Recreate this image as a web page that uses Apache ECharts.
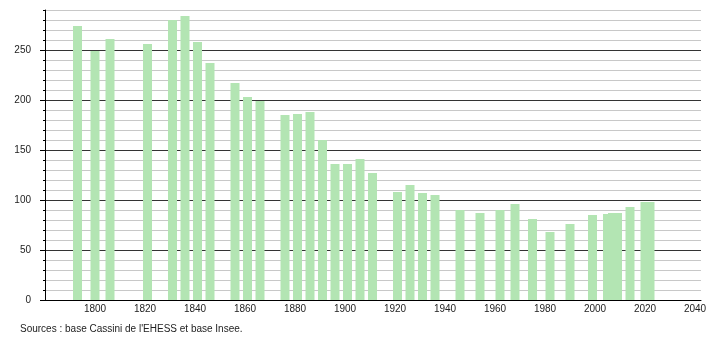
<!DOCTYPE html>
<html>
<head>
<meta charset="utf-8">
<script src="https://cdn.jsdelivr.net/npm/echarts@6/dist/echarts.min.js"></script>
<style>html,body{margin:0;padding:0;background:#fff;}#chart{width:710px;height:340px;}</style>
</head>
<body>
<div id="chart"></div>
<script>
const years = [1793,1800,1806,1821,1831,1836,1841,1846,1856,1861,1866,1876,1881,1886,1891,1896,1901,1906,1911,1921,1926,1931,1936,1946,1954,1962,1968,1975,1982,1990,1999,2005,2007,2009,2014,2020,2022];
const population = [274,249,261,256,280,284,258,237,217,203,199,185,186,188,160,136,136,141,127,108,115,107,105,90,87,90,96,81,68,76,85,86,87,87,93,98,98];
const xTickLabels = [1800,1820,1840,1860,1880,1900,1920,1940,1960,1980,2000,2020,2040];
const yTickLabels = [0,50,100,150,200,250];
const sourceText = "Sources : base Cassini de l'EHESS et base Insee.";

const BAR_COLOR = '#b3e5b3';
const BAR_W = 9;
const FONT = '"Liberation Sans", Arial, sans-serif';

const chart = echarts.init(document.getElementById('chart'), null, {renderer: 'canvas'});
const data = years.map((y, i) => [y, population[i]]);

chart.setOption({
  animation: false,
  backgroundColor: '#fff',
  grid: {left: 45, right: 9, top: 10, bottom: 40, containLabel: false},
  xAxis: {
    type: 'value', min: 1780, max: 2042.4, interval: 20,
    axisLine: {show: true, onZero: false, lineStyle: {color: '#000', width: 1}},
    axisTick: {show: false},
    splitLine: {show: false},
    axisLabel: {
      margin: 4, color: '#222', fontSize: 10, fontFamily: FONT,
      showMinLabel: true, showMaxLabel: true,
      formatter: v => xTickLabels.indexOf(v) >= 0 ? String(v) : ''
    }
  },
  yAxis: [{
    type: 'value', min: 0, max: 290, interval: 10, position: 'left',
    axisLine: {show: true, lineStyle: {color: '#000', width: 1}},
    axisTick: {show: true, length: 2, lineStyle: {color: '#000'}},
    splitLine: {show: true, lineStyle: {color: ['#333', '#c8c8c8', '#c8c8c8', '#c8c8c8', '#c8c8c8'], width: 1}},
    axisLabel: {
      margin: 14, color: '#222', fontSize: 10, fontFamily: FONT,
      formatter: v => yTickLabels.indexOf(v) >= 0 ? String(v) : ''
    }
  }, {
    type: 'value', min: 0, max: 290, interval: 50, position: 'left',
    axisLine: {show: false},
    axisTick: {show: true, length: 5, lineStyle: {color: '#000'}, customValues: yTickLabels},
    splitLine: {show: false},
    axisLabel: {show: false}
  }],
  series: [{
    type: 'custom',
    yAxisIndex: 0,
    data: data,
    z: 5,
    renderItem: (params, api) => {
      const x = api.value(0), y = api.value(1);
      const top = api.coord([x, y]);
      const base = api.coord([x, 0]);
      return {
        type: 'rect',
        shape: {x: top[0] - BAR_W / 2, y: top[1], width: BAR_W, height: base[1] - top[1]},
        style: {fill: BAR_COLOR}
      };
    }
  }],
  graphic: [{
    type: 'text', left: 20, top: 324,
    style: {text: sourceText, fill: '#222', font: '10px ' + FONT}
  }]
});
</script>
</body>
</html>
